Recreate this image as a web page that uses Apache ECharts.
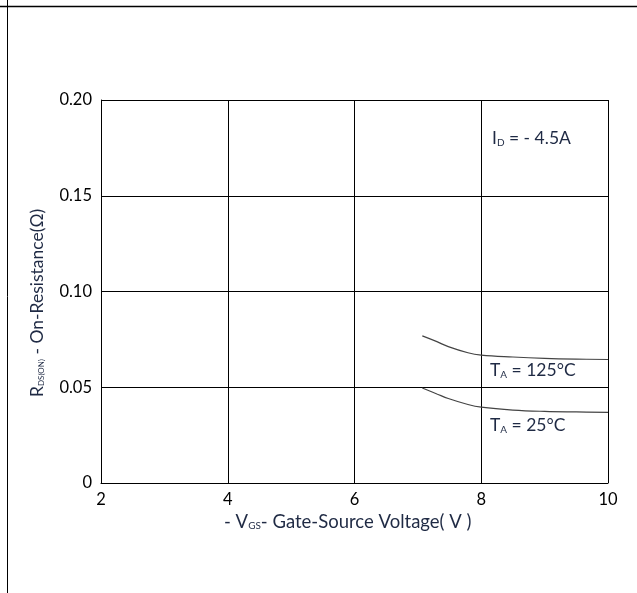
<!DOCTYPE html>
<html><head><meta charset="utf-8">
<script src="https://cdn.jsdelivr.net/npm/echarts@6/dist/echarts.min.js"></script>
<style>html,body{margin:0;padding:0;background:#fff}#c{width:637px;height:593px}</style>
</head><body><div id="c"></div>
<script>
const xTicks = [2, 4, 6, 8, 10];
const yTicks = [0, 0.05, 0.10, 0.15, 0.20];
const vgs125 = [7.07, 7.3, 7.48, 7.79, 8.0, 8.5, 9.0, 9.5, 10.0];
const rds125 = [0.0768, 0.0738, 0.0712, 0.0680, 0.0668, 0.0658, 0.0651, 0.0647, 0.0645];
const vgs25 = [7.07, 7.3, 7.48, 7.79, 8.0, 8.5, 9.0, 9.5, 10.0];
const rds25 = [0.0496, 0.0465, 0.0441, 0.0410, 0.0396, 0.0381, 0.0374, 0.0371, 0.0369];

const font = 'Lato, "Open Sans", sans-serif';
const chart = echarts.init(document.getElementById('c'), null, {renderer: 'canvas'});
const ink = '#1f2a44';
chart.setOption({
  animation: false,
  backgroundColor: '#fff',
  grid: {left: 101, right: 29, top: 100, bottom: 110, show: false},
  xAxis: {
    type: 'value', min: xTicks[0], max: xTicks[xTicks.length-1], interval: 2,
    axisLine: {show: true, onZero: false, lineStyle: {color: '#000', width: 1}},
    axisTick: {show: false},
    axisLabel: {color: '#000', fontFamily: font, fontSize: 16.5, margin: 8},
    splitLine: {show: true, lineStyle: {color: '#000', width: 1}}
  },
  yAxis: {
    type: 'value', min: yTicks[0], max: yTicks[yTicks.length-1], interval: 0.05,
    axisLine: {show: true, lineStyle: {color: '#000', width: 1}},
    axisTick: {show: false},
    axisLabel: {color: '#000', fontFamily: font, fontSize: 16.5, margin: 9,
      formatter: v => v === 0 ? '0' : v.toFixed(2)},
    splitLine: {show: true, lineStyle: {color: '#000', width: 1}}
  },
  series: [
    {type: 'line', smooth: 0.4, symbol: 'none', data: vgs125.map((v,i)=>[v, rds125[i]]),
     lineStyle: {color: '#444', width: 1.2}},
    {type: 'line', smooth: 0.4, symbol: 'none', data: vgs25.map((v,i)=>[v, rds25[i]]),
     lineStyle: {color: '#444', width: 1.2}}
  ],
  graphic: [
    {type: 'line', shape: {x1: 0, y1: 6.5, x2: 637, y2: 6.5}, style: {stroke: '#000', lineWidth: 1.5}},
    {type: 'line', shape: {x1: 7.5, y1: 0, x2: 7.5, y2: 593}, style: {stroke: '#000', lineWidth: 1}},
    {type: 'text', left: 492, top: 129, style: {
      text: '{a|I}{s|D}{a| = - 4.5A}',
      rich: {a: {fontFamily: font, fontSize: 17.5, fill: ink}, s: {fontFamily: font, fontSize: 10, fill: ink, padding: [9,0,0,0]}}
    }},
    {type: 'text', left: 490, top: 361, style: {
      text: '{a|T}{s|A}{a| = 125°C}',
      rich: {a: {fontFamily: font, fontSize: 17.5, fill: ink}, s: {fontFamily: font, fontSize: 10, fill: ink, padding: [9,0,0,0]}}
    }},
    {type: 'text', left: 490, top: 416, style: {
      text: '{a|T}{s|A}{a| = 25°C}',
      rich: {a: {fontFamily: font, fontSize: 17.5, fill: ink}, s: {fontFamily: font, fontSize: 10, fill: ink, padding: [9,0,0,0]}}
    }},
    {type: 'text', top: 513, left: 224, style: {
      text: '{a|- V}{s|GS}{a|- Gate-Source Voltage( V )}',
      rich: {a: {fontFamily: font, fontSize: 18.5, fill: ink}, s: {fontFamily: font, fontSize: 10, fill: ink, padding: [7,0,0,0]}}
    }},
    {type: 'text', x: 28, y: 397, rotation: Math.PI/2, style: {
      text: '{a|R}{s|DS(ON)}{a| - On-Resistance(Ω)}',
      rich: {a: {fontFamily: font, fontSize: 17.5, fill: ink}, s: {fontFamily: font, fontSize: 8, fill: ink, padding: [8,0,0,0]}}
    }}
  ]
});
</script></body></html>
